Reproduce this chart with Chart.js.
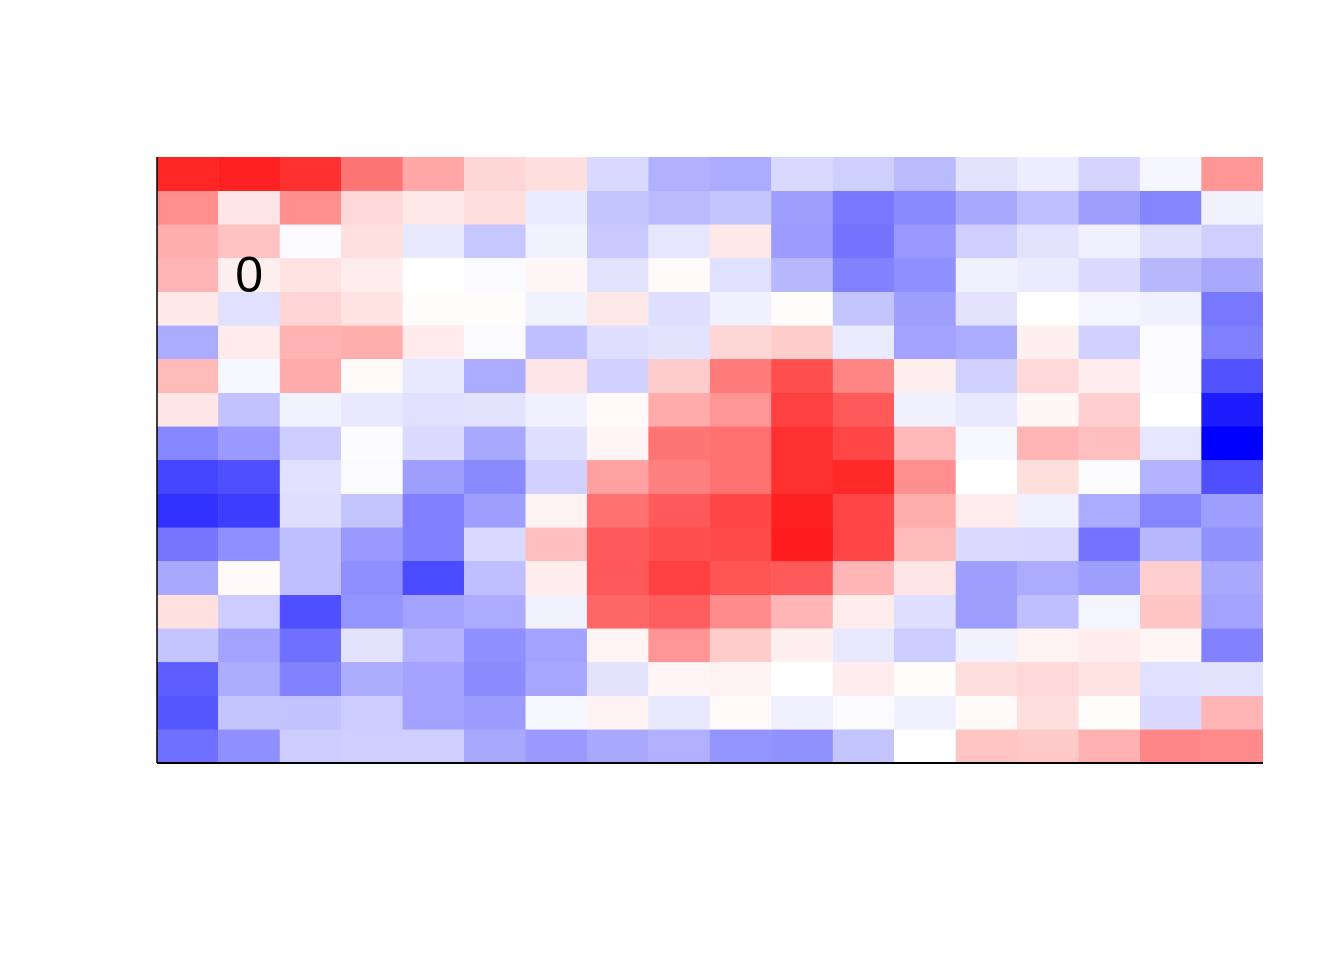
<!DOCTYPE html>
<html>
<head>
<meta charset="utf-8">
<script src="https://cdn.jsdelivr.net/npm/chart.js@4/dist/chart.umd.min.js"></script>
<style>
  html, body { margin: 0; padding: 0; background: #ffffff; }
  #wrap { width: 1344px; height: 960px; }
</style>
</head>
<body>
<div id="wrap"><canvas id="heat"></canvas></div>
<script>
const columns = ["1","2","3","4","5","6","7","8","9","10","11","12","13","14","15","16","17","18"];
const rows = ["1","2","3","4","5","6","7","8","9","10","11","12","13","14","15","16","17","18"];

// value per cell, top row first; +1 = full red, -1 = full blue
const values = [
  [0.85, 0.87, 0.81, 0.54, 0.35, 0.16, 0.13, -0.15, -0.31, -0.33, -0.15, -0.19, -0.27, -0.11, -0.07, -0.17, -0.04, 0.41],
  [0.44, 0.10, 0.44, 0.15, 0.09, 0.13, -0.08, -0.23, -0.27, -0.23, -0.38, -0.53, -0.46, -0.34, -0.25, -0.38, -0.48, -0.05],
  [0.32, 0.24, -0.02, 0.12, -0.09, -0.22, -0.05, -0.21, -0.10, 0.09, -0.39, -0.55, -0.40, -0.19, -0.11, -0.06, -0.13, -0.19],
  [0.29, 0.06, 0.11, 0.07, 0.00, -0.02, 0.03, -0.11, 0.02, -0.12, -0.28, -0.49, -0.44, -0.06, -0.08, -0.14, -0.28, -0.34],
  [0.09, -0.12, 0.17, 0.11, 0.01, 0.01, -0.05, 0.09, -0.13, -0.06, 0.01, -0.23, -0.38, -0.11, 0.00, -0.04, -0.06, -0.53],
  [-0.33, 0.08, 0.30, 0.32, 0.08, -0.02, -0.25, -0.13, -0.11, 0.16, 0.20, -0.08, -0.36, -0.33, 0.06, -0.18, -0.01, -0.50],
  [0.27, -0.03, 0.33, 0.02, -0.09, -0.33, 0.10, -0.18, 0.20, 0.52, 0.69, 0.48, 0.06, -0.18, 0.15, 0.07, -0.02, -0.68],
  [0.10, -0.24, -0.05, -0.09, -0.12, -0.11, -0.06, 0.02, 0.33, 0.42, 0.75, 0.65, -0.06, -0.09, 0.03, 0.19, 0.00, -0.89],
  [-0.47, -0.40, -0.20, -0.01, -0.14, -0.34, -0.13, 0.04, 0.54, 0.56, 0.81, 0.72, 0.28, -0.03, 0.29, 0.25, -0.10, -1.00],
  [-0.73, -0.69, -0.12, -0.02, -0.38, -0.46, -0.18, 0.37, 0.50, 0.56, 0.81, 0.84, 0.44, 0.00, 0.13, -0.01, -0.30, -0.69],
  [-0.81, -0.76, -0.13, -0.23, -0.50, -0.38, 0.05, 0.56, 0.65, 0.72, 0.87, 0.73, 0.32, 0.07, -0.06, -0.33, -0.48, -0.38],
  [-0.54, -0.44, -0.25, -0.40, -0.50, -0.15, 0.25, 0.65, 0.69, 0.71, 0.89, 0.73, 0.27, -0.14, -0.15, -0.55, -0.28, -0.43],
  [-0.34, 0.02, -0.25, -0.44, -0.71, -0.25, 0.07, 0.65, 0.75, 0.67, 0.65, 0.29, 0.10, -0.38, -0.33, -0.38, 0.19, -0.34],
  [0.12, -0.20, -0.69, -0.42, -0.36, -0.33, -0.05, 0.60, 0.63, 0.45, 0.29, 0.07, -0.13, -0.38, -0.25, -0.04, 0.23, -0.36],
  [-0.23, -0.36, -0.56, -0.11, -0.30, -0.44, -0.36, 0.04, 0.42, 0.20, 0.06, -0.09, -0.20, -0.05, 0.05, 0.07, 0.04, -0.49],
  [-0.63, -0.32, -0.49, -0.32, -0.36, -0.45, -0.35, -0.11, 0.04, 0.05, 0.00, 0.07, 0.01, 0.13, 0.15, 0.11, -0.12, -0.11],
  [-0.66, -0.23, -0.24, -0.20, -0.36, -0.39, -0.03, 0.05, -0.09, 0.02, -0.06, -0.02, -0.06, 0.02, 0.13, 0.01, -0.15, 0.29],
  [-0.56, -0.44, -0.20, -0.19, -0.19, -0.34, -0.40, -0.34, -0.31, -0.42, -0.43, -0.23, 0.00, 0.23, 0.21, 0.31, 0.47, 0.46]
];

// single text label inside the grid
const labelText = "0";
const labelRow = 3;
const labelCol = 1;

function cellColor(v) {
  let r, g, b;
  if (v >= 0) {
    r = 255;
    g = b = Math.round(255 * (1 - v));
  } else {
    r = g = Math.round(255 * (1 + v));
    b = 255;
  }
  return `rgb(${r}, ${g}, ${b})`;
}

const datasets = rows.map((name, ri) => {
  const bottom = rows.length - 1 - ri;
  return {
    label: "row " + name,
    data: columns.map(() => [bottom, bottom + 1]),
    backgroundColor: values[ri].map(cellColor),
    borderColor: values[ri].map(cellColor),
    borderWidth: 0.6,
    borderSkipped: false,
    categoryPercentage: 1.0,
    barPercentage: 1.0,
    grouped: false,
  };
});

const frameAndLabel = {
  id: "frameAndLabel",
  afterDatasetsDraw(chart) {
    const { ctx, chartArea, scales } = chart;
    ctx.save();
    ctx.strokeStyle = "#000000";
    ctx.lineWidth = 1.5;
    ctx.beginPath();
    ctx.moveTo(chartArea.left, chartArea.top);
    ctx.lineTo(chartArea.left, chartArea.bottom);
    ctx.stroke();
    ctx.lineWidth = 2;
    ctx.beginPath();
    ctx.moveTo(chartArea.left, chartArea.bottom);
    ctx.lineTo(chartArea.right, chartArea.bottom);
    ctx.stroke();

    const x = scales.x.getPixelForValue(labelCol);
    const y = scales.y.getPixelForValue(rows.length - labelRow - 0.5);
    ctx.fillStyle = "#000000";
    ctx.font = '50px "Liberation Sans", Arial, sans-serif';
    ctx.textAlign = "center";
    ctx.textBaseline = "middle";
    ctx.fillText(labelText, x, y + 3);
    ctx.restore();
  },
};

const ctx = document.getElementById("heat").getContext("2d");
const heatChart = new Chart(ctx, {
  type: "bar",
  data: { labels: columns, datasets: datasets },
  options: {
    responsive: true,
    maintainAspectRatio: false,
    animation: false,
    layout: { padding: { left: 157, right: 81, top: 157, bottom: 197 } },
    scales: {
      x: { display: false, offset: true },
      y: { display: false, min: 0, max: rows.length },
    },
    plugins: {
      legend: { display: false },
      tooltip: { enabled: false },
    },
  },
  plugins: [frameAndLabel],
});
</script>
</body>
</html>
